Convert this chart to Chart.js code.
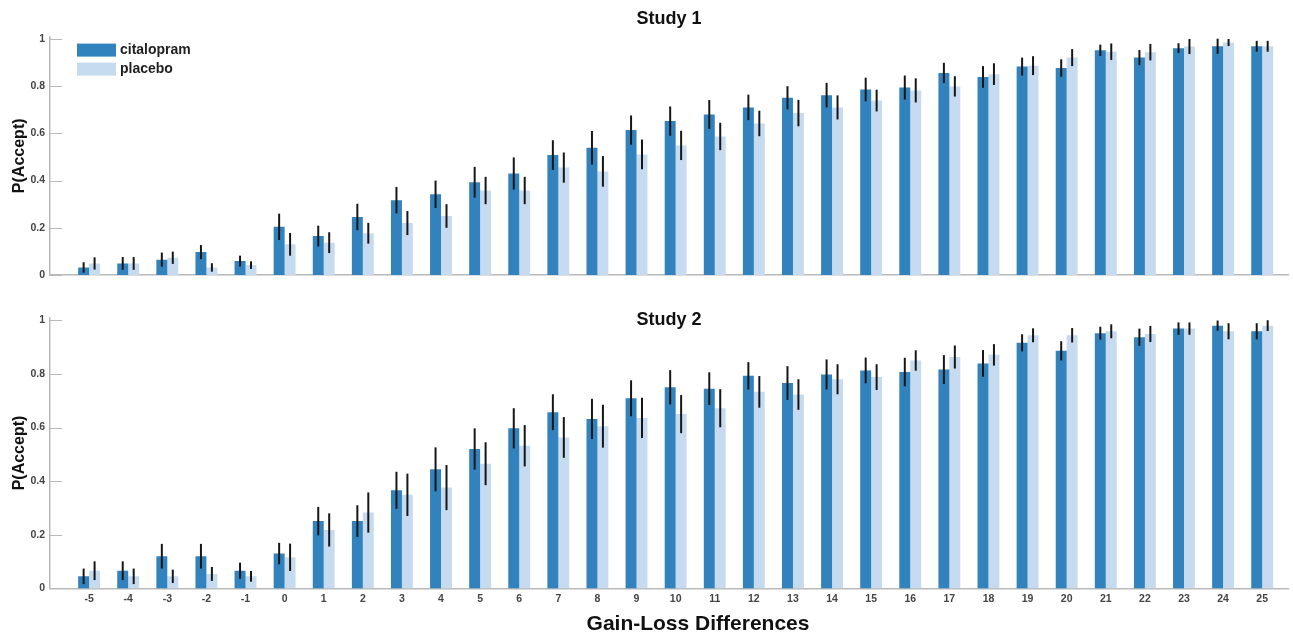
<!DOCTYPE html>
<html lang="en">
<head>
    <meta charset="UTF-8">
    <title>P(Accept) by Gain-Loss Difference</title>
    <script src="https://cdn.jsdelivr.net/npm/chart.js"></script>
    <style>
        body { margin: 0; background: #fff; }
        .panel { position: absolute; left: 0; }
    </style>
</head>
<body>
    <!-- Study 1 / Study 2 -->
    <canvas id="study1Chart" class="panel" width="1293" height="288" style="top:0px;"></canvas>
    <canvas id="study2Chart" class="panel" width="1293" height="345" style="top:290px;"></canvas>

    <script>
        // gain-loss differences (x axis)
        const gains = [-5, -4, -3, -2, -1, 0, 1, 2, 3, 4, 5, 6, 7, 8, 9, 10, 11, 12, 13, 14, 15, 16, 17, 18, 19, 20, 21, 22, 23, 24, 25];
        const yTicks = [0, 0.2, 0.4, 0.6, 0.8, 1];
        const seriesNames = ['citalopram', 'placebo'];

        // Study 1 - means and error bar half-lengths
        const s1Citalopram = [0.032, 0.049, 0.065, 0.097, 0.059, 0.204, 0.165, 0.246, 0.317, 0.342, 0.393, 0.43, 0.508, 0.539, 0.614, 0.652, 0.68, 0.71, 0.751, 0.762, 0.786, 0.794, 0.856, 0.839, 0.883, 0.877, 0.952, 0.921, 0.961, 0.969, 0.969];
        const s1CitalopramErr = [0.022, 0.027, 0.03, 0.03, 0.023, 0.056, 0.044, 0.056, 0.056, 0.058, 0.065, 0.068, 0.063, 0.071, 0.062, 0.062, 0.061, 0.054, 0.049, 0.052, 0.05, 0.051, 0.043, 0.046, 0.038, 0.037, 0.024, 0.032, 0.021, 0.032, 0.023];
        const s1Placebo = [0.049, 0.049, 0.073, 0.032, 0.042, 0.13, 0.137, 0.177, 0.22, 0.25, 0.358, 0.358, 0.455, 0.439, 0.511, 0.549, 0.587, 0.642, 0.686, 0.71, 0.739, 0.782, 0.799, 0.851, 0.887, 0.921, 0.946, 0.944, 0.968, 0.985, 0.969];
        const s1PlaceboErr = [0.026, 0.027, 0.026, 0.018, 0.016, 0.048, 0.044, 0.044, 0.051, 0.05, 0.058, 0.058, 0.064, 0.065, 0.063, 0.062, 0.058, 0.054, 0.056, 0.051, 0.046, 0.051, 0.043, 0.046, 0.04, 0.036, 0.035, 0.035, 0.032, 0.015, 0.023];

        // Study 2
        const s2Citalopram = [0.045, 0.066, 0.12, 0.12, 0.066, 0.13, 0.251, 0.251, 0.366, 0.444, 0.52, 0.597, 0.657, 0.632, 0.709, 0.75, 0.745, 0.793, 0.766, 0.798, 0.813, 0.807, 0.816, 0.839, 0.916, 0.886, 0.952, 0.937, 0.969, 0.98, 0.959];
        const s2CitalopramErr = [0.029, 0.035, 0.046, 0.046, 0.03, 0.04, 0.053, 0.059, 0.069, 0.082, 0.077, 0.075, 0.067, 0.075, 0.067, 0.064, 0.061, 0.051, 0.063, 0.056, 0.048, 0.053, 0.054, 0.05, 0.032, 0.036, 0.024, 0.032, 0.023, 0.019, 0.03];
        const s2Placebo = [0.066, 0.045, 0.045, 0.054, 0.045, 0.116, 0.218, 0.283, 0.349, 0.376, 0.465, 0.532, 0.563, 0.605, 0.636, 0.65, 0.672, 0.733, 0.723, 0.78, 0.788, 0.85, 0.863, 0.871, 0.944, 0.944, 0.959, 0.949, 0.969, 0.959, 0.98];
        const s2PlaceboErr = [0.035, 0.029, 0.025, 0.026, 0.02, 0.051, 0.062, 0.075, 0.079, 0.084, 0.08, 0.077, 0.076, 0.08, 0.075, 0.071, 0.071, 0.059, 0.057, 0.056, 0.048, 0.038, 0.043, 0.04, 0.026, 0.027, 0.026, 0.03, 0.023, 0.03, 0.02];

        const DARK = '#3182bd';
        const LIGHT = '#c6dbef';
        const AXIS = '#b9b9b9';
        const FONT = "'Liberation Sans', Arial, Helvetica, sans-serif";
        Chart.defaults.font.family = FONT;

        // black vertical error bars on top of each bar
        const errorBars = {
            id: 'errorBars',
            afterDatasetsDraw(chart) {
                const ctx = chart.ctx;
                const y = chart.scales.y;
                ctx.save();
                ctx.strokeStyle = '#161616';
                ctx.lineWidth = 2;
                chart.data.datasets.forEach((ds, di) => {
                    const meta = chart.getDatasetMeta(di);
                    meta.data.forEach((bar, i) => {
                        const v = ds.data[i].y, e = ds.errors[i];
                        ctx.beginPath();
                        ctx.moveTo(bar.x, y.getPixelForValue(v - e));
                        ctx.lineTo(bar.x, y.getPixelForValue(v + e));
                        ctx.stroke();
                    });
                });
                ctx.restore();
            }
        };

        // matlab style: y ticks pointing into the plot
        const innerTicks = {
            id: 'innerTicks',
            afterDraw(chart) {
                const ctx = chart.ctx;
                const y = chart.scales.y;
                const left = chart.chartArea.left;
                ctx.save();
                ctx.strokeStyle = AXIS;
                ctx.lineWidth = 1;
                yTicks.forEach(t => {
                    const py = Math.round(y.getPixelForValue(t)) + 0.5;
                    ctx.beginPath();
                    ctx.moveTo(left, py);
                    ctx.lineTo(left + 12, py);
                    ctx.stroke();
                });
                ctx.restore();
            }
        };

        // legend box inside the top-left of study 1
        const insideLegend = {
            id: 'insideLegend',
            afterDraw(chart, args, opts) {
                if (!opts.show) return;
                const ctx = chart.ctx;
                const a = chart.chartArea;
                ctx.save();
                ctx.font = 'bold 14px ' + FONT;
                ctx.textBaseline = 'middle';
                chart.data.datasets.forEach((ds, i) => {
                    const bx = a.left + 27, by = a.top + 7 + i * 19;
                    ctx.fillStyle = ds.backgroundColor;
                    ctx.fillRect(bx, by, 39, 13);
                    ctx.fillStyle = '#1e1e1e';
                    ctx.fillText(ds.label, bx + 43, by + 7);
                });
                ctx.restore();
            }
        };

        // x axis title, sits a bit right of the plot center in the original
        const xTitle = {
            id: 'xTitle',
            afterDraw(chart, args, opts) {
                if (!opts.text) return;
                const ctx = chart.ctx;
                const a = chart.chartArea;
                ctx.save();
                ctx.font = 'bold 21px ' + FONT;
                ctx.fillStyle = '#111';
                ctx.textAlign = 'center';
                ctx.textBaseline = 'middle';
                ctx.fillText(opts.text, (a.left + a.right) / 2 + 29, a.bottom + 36);
                ctx.restore();
            }
        };

        function makeChart(id, title, cit, citErr, pla, plaErr, bottom) {
            const ctx = document.getElementById(id).getContext('2d');
            return new Chart(ctx, {
                type: 'bar',
                data: {
                    datasets: [
                        {
                            label: seriesNames[0],
                            data: gains.map((g, i) => ({ x: g, y: cit[i] })),
                            errors: citErr,
                            backgroundColor: DARK
                        },
                        {
                            label: seriesNames[1],
                            data: gains.map((g, i) => ({ x: g, y: pla[i] })),
                            errors: plaErr,
                            backgroundColor: LIGHT
                        }
                    ]
                },
                options: {
                    responsive: false,
                    animation: false,
                    categoryPercentage: 0.56,
                    barPercentage: 1.0,
                    layout: { padding: { left: 0, right: 5, top: 0, bottom: bottom ? 26 : 13 } },
                    plugins: {
                        legend: { display: false },
                        tooltip: { enabled: false },
                        title: {
                            display: true,
                            text: title,
                            fullSize: false,
                            color: '#111',
                            font: { size: 18, weight: 'bold' },
                            padding: bottom ? { top: 19, bottom: -13 } : { top: 8, bottom: 7 }
                        },
                        insideLegend: { show: !bottom },
                        xTitle: { text: bottom ? 'Gain-Loss Differences' : '' }
                    },
                    scales: {
                        x: {
                            type: 'linear',
                            min: -6,
                            max: 25.66,
                            offset: false,
                            grid: { display: false, drawTicks: false },
                            border: { color: AXIS, width: 1.5 },
                            afterBuildTicks: s => { s.ticks = gains.map(v => ({ value: v })); },
                            ticks: {
                                display: bottom,
                                autoSkip: false,
                                maxRotation: 0,
                                padding: 4,
                                color: '#444',
                                font: { size: 10.5, weight: 'bold' },
                                callback: v => String(v)
                            }
                        },
                        y: {
                            min: 0,
                            max: 1.01,
                            afterBuildTicks: s => { s.ticks = yTicks.map(v => ({ value: v })); },
                            afterFit: s => { s.width = 50; },
                            grid: { display: false, drawTicks: false },
                            border: { color: AXIS, width: 1.5 },
                            ticks: {
                                padding: 5,
                                color: '#444',
                                font: { size: 10.5, weight: 'bold' },
                                callback: v => String(v)
                            },
                            title: {
                                display: true,
                                text: 'P(Accept)',
                                color: '#111',
                                font: { size: 16, weight: 'bold' },
                                padding: { top: 10, bottom: 0 }
                            }
                        }
                    }
                },
                plugins: [errorBars, innerTicks, insideLegend, xTitle]
            });
        }

        makeChart('study1Chart', 'Study 1', s1Citalopram, s1CitalopramErr, s1Placebo, s1PlaceboErr, false);
        makeChart('study2Chart', 'Study 2', s2Citalopram, s2CitalopramErr, s2Placebo, s2PlaceboErr, true);
    </script>
</body>
</html>
